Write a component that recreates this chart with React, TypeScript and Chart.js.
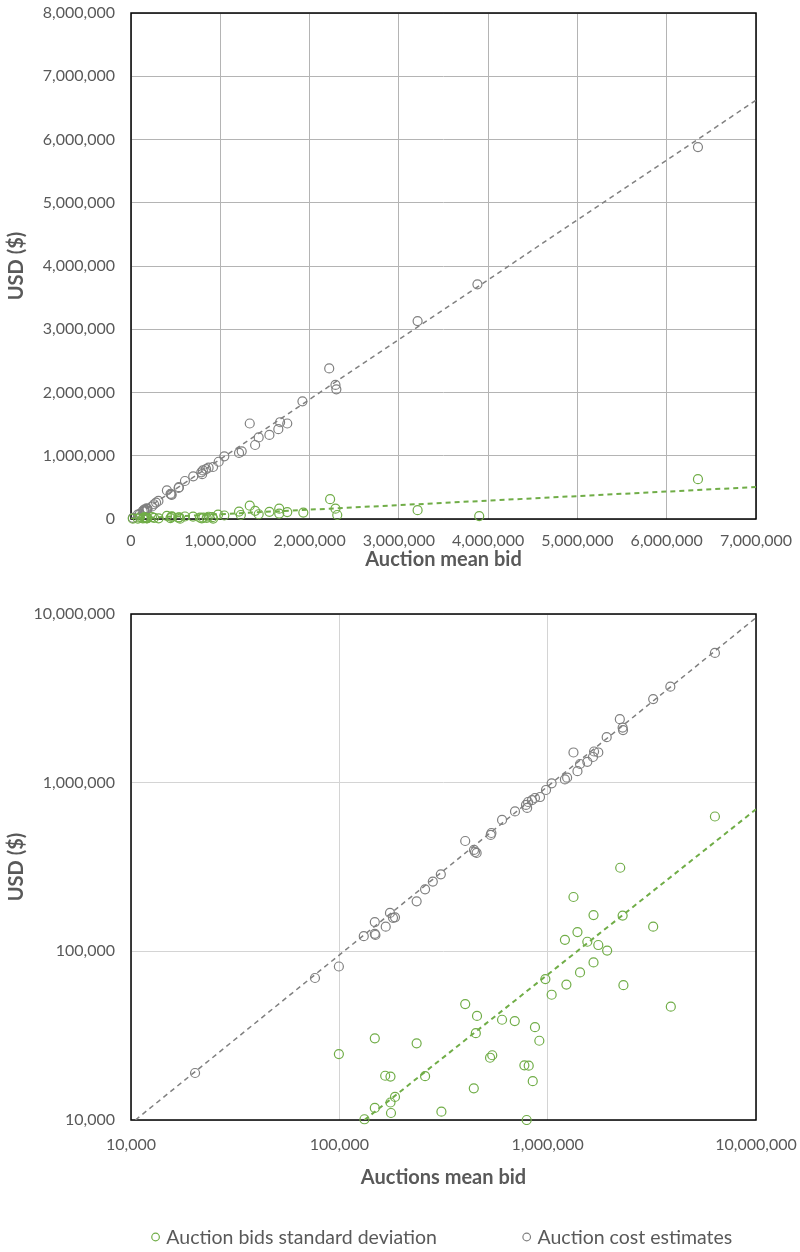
import React, { useEffect, useRef } from 'react';
import { Chart, registerables } from 'chart.js';

Chart.register(...registerables);

// ---- Data: auction cost estimates (grey) ----
const costMeanBid = [
  20300, 76400, 99500, 131000, 148000, 149000, 148000, 167000, 175000, 181000,
  185000, 235000, 258000, 281000, 307000, 402000, 443000, 448000, 456000, 533000,
  537000, 604000, 697000, 787000, 805000, 797000, 841000, 869000, 919000, 982000,
  1045000, 1210000, 1240000, 1330000, 1390000, 1430000, 1550000, 1650000, 1670000, 1750000,
  1920000, 2220000, 2290000, 2300000, 3210000, 3880000, 6350000,
];
const costEstimate = [
  19000, 69500, 81300, 123000, 127000, 125000, 149000, 140000, 169000, 158000,
  159000, 198000, 233000, 259000, 286000, 451000, 399000, 388000, 383000, 490000,
  503000, 601000, 675000, 738000, 768000, 708000, 789000, 811000, 822000, 905000,
  991000, 1045000, 1070000, 1510000, 1170000, 1290000, 1330000, 1420000, 1530000, 1510000,
  1860000, 2380000, 2120000, 2050000, 3130000, 3710000, 5880000,
];

// ---- Data: auction bids standard deviation (green) ----
const sdMeanBid = [
  6350000, 2230000, 1330000, 1660000, 2290000, 3210000, 1390000, 1210000, 1550000, 1750000,
  1930000, 1660000, 1430000, 975000, 1230000, 2310000, 1045000, 3900000, 402000, 458000,
  604000, 695000, 869000, 452000, 912000, 148000, 235000, 99500, 529000, 542000,
  166000, 176000, 258000, 773000, 811000, 848000, 442000, 185000, 176000, 148000,
  177000, 309000, 132000, 793000, 20300, 76400, 550000, 920000,
];
const sdValue = [
  630000, 313000, 210000, 164000, 163000, 140000, 130000, 117000, 114000, 109000,
  101000, 86000, 75000, 68500, 63500, 63000, 55300, 47000, 48700, 41400,
  39300, 38600, 35500, 32700, 29500, 30500, 28500, 24600, 23400, 24200,
  18300, 18100, 18200, 21100, 21000, 17000, 15400, 13700, 12700, 11800,
  11000, 11200, 10100, 10000, 4500, 7200, 5000, 6000,
];

// ---- Trend lines ----
const linearTrendX = [0, 7000000];
const costTrendLinearY = [0, 6620000];
const sdTrendLinearY = [5000, 505000];
const costTrendLogX = [10500, 10000000];
const costTrendLogY = [10000, 9500000];
const sdTrendLogX = [132000, 10000000];
const sdTrendLogY = [10000, 695000];

// ---- Axes ----
const linearXMax = 7000000;
const linearYMax = 8000000;
const linearStep = 1000000;
const logMin = 10000;
const logMax = 10000000;
const logTicks = [10000, 100000, 1000000, 10000000];

const sdLabel = 'Auction bids standard deviation';
const costLabel = 'Auction cost estimates';
const yTitle = 'USD ($)';
const xTitleTop = 'Auction mean bid';
const xTitleBottom = 'Auctions mean bid';

const GREEN = '#70AD47';
const GREY = '#808080';
const TEXT = '#595959';
const FONT = 'Lato, "Open Sans", sans-serif';
const TICK_SIZE = 16;
const TITLE_SIZE = 20;
const LEGEND_SIZE = 19.5;

const fmt = (v: any) => Number(v).toLocaleString('en-US');
const pts = (xs: number[], ys: number[]) => xs.map((x, i) => ({ x, y: ys[i] }));

const framePlugin = {
  id: 'frame',
  beforeDatasetsDraw(chart: any) {
    const { ctx, chartArea: a } = chart;
    ctx.save();
    ctx.strokeStyle = '#000';
    ctx.lineWidth = 1.5;
    ctx.strokeRect(a.left, a.top, a.right - a.left, a.bottom - a.top);
    ctx.restore();
  },
};

const legendPlugin = {
  id: 'excelLegend',
  afterDraw(chart: any) {
    const ctx = chart.ctx;
    const items = chart.data.datasets.filter((d: any) => !d.showLine);
    ctx.save();
    ctx.font = `${LEGEND_SIZE}px ${FONT}`;
    ctx.textBaseline = 'middle';
    ctx.textAlign = 'left';
    const r = 3.8;
    const markerGap = 7;
    const itemGap = 86;
    const widths = items.map((d: any) => 2 * r + markerGap + ctx.measureText(d.label).width);
    const total = widths.reduce((a: number, b: number) => a + b, 0) + itemGap * (items.length - 1);
    let x = (chart.chartArea.left + chart.chartArea.right) / 2 - 1.5 - total / 2;
    const y = chart.height - 15;
    items.forEach((d: any, i: number) => {
      ctx.beginPath();
      ctx.arc(x + r, y, r, 0, Math.PI * 2);
      ctx.strokeStyle = d.borderColor;
      ctx.lineWidth = 1.2;
      ctx.stroke();
      ctx.fillStyle = TEXT;
      ctx.fillText(d.label, x + 2 * r + markerGap, y + 1);
      x += widths[i] + itemGap;
    });
    ctx.restore();
  },
};

function scatterSet(label: string, xs: number[], ys: number[], color: string) {
  return {
    label,
    data: pts(xs, ys),
    borderColor: color,
    backgroundColor: 'rgba(0,0,0,0)',
    pointRadius: 4.5,
    pointHoverRadius: 4.5,
    pointBorderWidth: 1.2,
    showLine: false,
    clip: 5,
    order: 1,
  };
}

function trendSet(xs: number[], ys: number[], color: string, width: number) {
  return {
    label: 'trend',
    data: pts(xs, ys),
    borderColor: color,
    backgroundColor: color,
    borderWidth: width,
    borderDash: [5, 4],
    pointRadius: 0,
    showLine: true,
    fill: false,
    order: 0,
  };
}

const tickFont = { family: FONT, size: TICK_SIZE };
const titleFont = { family: FONT, size: TITLE_SIZE, weight: 'bold' as const };

const fitX = (h: number) => (s: any) => {
  s.height = h;
  s.paddingLeft = 0;
  s.paddingRight = 0;
};
const fitY = (s: any) => {
  s.width = 131;
  s.paddingTop = 0;
  s.paddingBottom = 0;
};

function makeTop(canvas: HTMLCanvasElement) {
  return new Chart(canvas, {
    type: 'scatter',
    data: {
      datasets: [
        scatterSet(sdLabel, sdMeanBid, sdValue, GREEN),
        scatterSet(costLabel, costMeanBid, costEstimate, GREY),
        trendSet(linearTrendX, sdTrendLinearY, GREEN, 2),
        trendSet(linearTrendX, costTrendLinearY, GREY, 1.5),
      ] as any,
    },
    options: {
      animation: false,
      responsive: false,
      devicePixelRatio: 1,
      layout: { padding: { left: 0, right: 44, top: 13, bottom: 0 } },
      plugins: { legend: { display: false }, tooltip: { enabled: false } },
      scales: {
        x: {
          type: 'linear',
          min: 0,
          max: linearXMax,
          ticks: { stepSize: linearStep, callback: fmt, color: TEXT, font: tickFont, padding: 12, maxRotation: 0, autoSkip: false },
          grid: { color: '#b4b4b4', drawTicks: false },
          border: { display: false },
          title: { display: true, text: xTitleTop, color: TEXT, font: titleFont, padding: { top: 0, bottom: 8 } },
          afterFit: fitX(61),
        },
        y: {
          type: 'linear',
          min: 0,
          max: linearYMax,
          ticks: { stepSize: linearStep, callback: fmt, color: TEXT, font: tickFont, padding: 16 },
          grid: { color: '#b4b4b4', drawTicks: false },
          border: { display: false },
          title: { display: true, text: yTitle, color: TEXT, font: titleFont, padding: { top: 5, bottom: 0 } },
          afterFit: fitY,
        },
      },
    } as any,
    plugins: [framePlugin],
  });
}

function makeBottom(canvas: HTMLCanvasElement) {
  const logAxis = (title: string, isX: boolean) => ({
    type: 'logarithmic',
    min: logMin,
    max: logMax,
    afterBuildTicks: (s: any) => { s.ticks = logTicks.map((v) => ({ value: v })); },
    ticks: { callback: fmt, color: TEXT, font: tickFont, padding: isX ? 15 : 16, maxRotation: 0, autoSkip: false },
    grid: { color: '#d4d4d4', drawTicks: false },
    border: { display: false },
    title: {
      display: true,
      text: title,
      color: TEXT,
      font: titleFont,
      padding: isX ? { top: 0, bottom: 10 } : { top: 5, bottom: 0 },
    },
    afterFit: isX ? fitX(80) : fitY,
  });
  return new Chart(canvas, {
    type: 'scatter',
    data: {
      datasets: [
        scatterSet(sdLabel, sdMeanBid, sdValue, GREEN),
        scatterSet(costLabel, costMeanBid, costEstimate, GREY),
        trendSet(sdTrendLogX, sdTrendLogY, GREEN, 2),
        trendSet(costTrendLogX, costTrendLogY, GREY, 1.5),
      ] as any,
    },
    options: {
      animation: false,
      responsive: false,
      devicePixelRatio: 1,
      layout: { padding: { left: 0, right: 44, top: 34, bottom: 52 } },
      plugins: { legend: { display: false }, tooltip: { enabled: false } },
      scales: {
        x: logAxis(xTitleBottom, true),
        y: logAxis(yTitle, false),
      },
    } as any,
    plugins: [framePlugin, legendPlugin],
  });
}

export default function App() {
  const topRef = useRef<HTMLCanvasElement>(null);
  const bottomRef = useRef<HTMLCanvasElement>(null);

  useEffect(() => {
    const c1 = makeTop(topRef.current!);
    const c2 = makeBottom(bottomRef.current!);
    return () => {
      c1.destroy();
      c2.destroy();
    };
  }, []);

  return (
    <div style={{ position: 'absolute', left: 0, top: 0, width: 800, height: 1252, background: '#fff' }}>
      <canvas ref={topRef} width={800} height={580} style={{ position: 'absolute', left: 0, top: 0, display: 'block' }} />
      <canvas ref={bottomRef} width={800} height={672} style={{ position: 'absolute', left: 0, top: 580, display: 'block' }} />
    </div>
  );
}
